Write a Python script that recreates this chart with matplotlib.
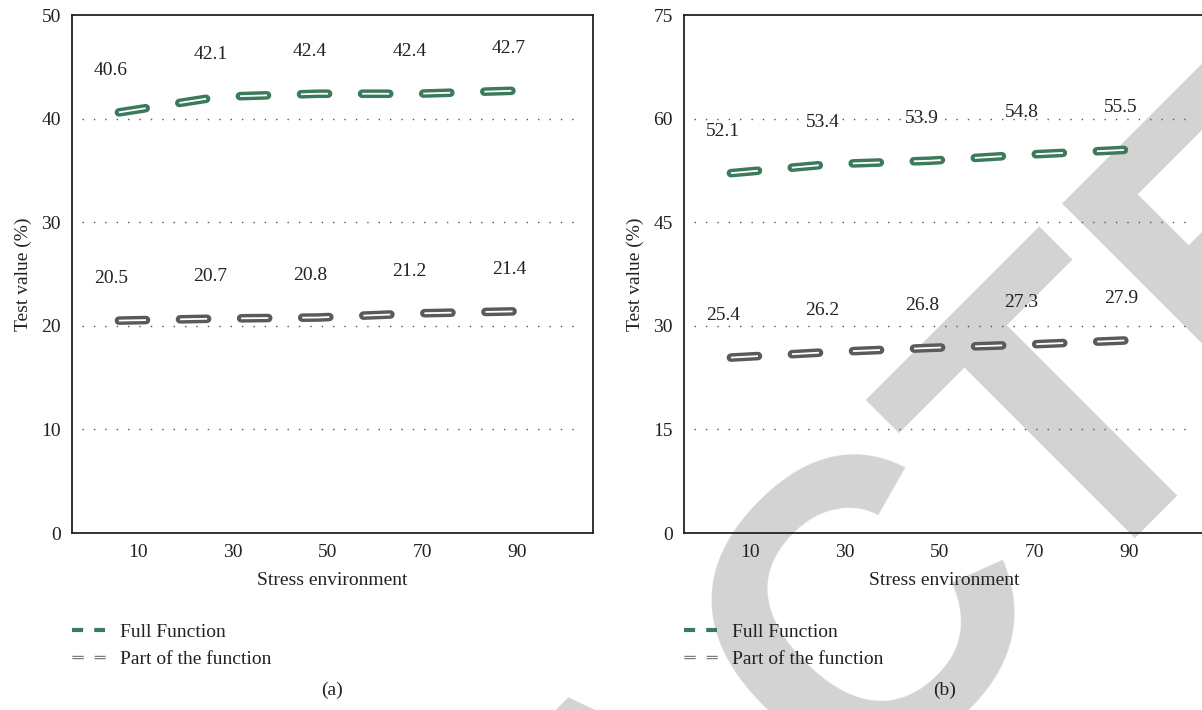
import matplotlib
matplotlib.use('Agg')
import matplotlib.pyplot as plt
from matplotlib.lines import Line2D
from matplotlib.legend_handler import HandlerTuple

plt.rcParams['font.family'] = ['Liberation Serif', 'DejaVu Serif']
plt.rcParams['lines.scale_dashes'] = False

# ---------------- data ----------------
x_ticks = [10, 30, 50, 70, 90]
x_points = [6, 27, 48, 69, 90]
full_a = [40.6, 42.1, 42.4, 42.4, 42.7]
part_a = [20.5, 20.7, 20.8, 21.2, 21.4]
full_b = [52.1, 53.4, 53.9, 54.8, 55.5]
part_b = [25.4, 26.2, 26.8, 27.3, 27.9]
yticks_a = [0, 10, 20, 30, 40, 50]
yticks_b = [0, 15, 30, 45, 60, 75]
series_names = ['Full Function', 'Part of the function']
panel_labels = ['(a)', '(b)']

GREEN = '#3b7a5b'
GRAY = '#5a5a5a'
SPINE = '#222222'
TXT = '#222222'
FS = 14

fig = plt.figure(figsize=(12.02, 7.10), dpi=100)

# retraction watermark (behind the plot content)
fig.text(0.5516, -0.1676, 'RETRACTED', rotation=45, fontsize=300, color='#d3d3d3',
         family='Liberation Sans', weight='bold', ha='center', va='center',
         zorder=-10, rotation_mode='anchor')

ax_w = 521 / 1202
ax_h = 518 / 710
ax_bottom = 1 - 533 / 710
axes = [fig.add_axes([72 / 1202, ax_bottom, ax_w, ax_h]),
        fig.add_axes([684 / 1202, ax_bottom, ax_w, ax_h])]

def outlined(ax, x, y, color):
    ax.plot(x, y, color=color, lw=6.2, dashes=(19.5, 24.5), dash_capstyle='round',
            zorder=3)
    ax.plot(x, y, color='white', lw=1.3, dashes=(19.5, 24.5), dash_capstyle='butt',
            zorder=4)

panels = [(axes[0], full_a, part_a, yticks_a), (axes[1], full_b, part_b, yticks_b)]
for i, (ax, full, part, yt) in enumerate(panels):
    ax.set_facecolor('none')
    ax.set_xlim(-3.9, 106)
    ax.set_ylim(yt[0], yt[-1])
    ax.set_xticks(x_ticks)
    ax.set_yticks(yt)
    ax.tick_params(axis='both', length=0, labelsize=FS, colors=TXT)
    ax.tick_params(axis='y', pad=8)
    ax.tick_params(axis='x', pad=8)
    for s in ax.spines.values():
        s.set_color(SPINE)
        s.set_linewidth(1.3)
    for v in yt[1:-1]:
        ax.axhline(v, xmin=0.02, xmax=0.975, color='#555555', lw=1.0,
                   dashes=(1, 7.2), zorder=1)
    outlined(ax, x_points, full, GREEN)
    outlined(ax, x_points, part, GRAY)
    for xs, ys in ((x_points, full), (x_points, part)):
        for xv, yv in zip(xs, ys):
            ax.annotate(f'{yv:.1f}', (xv, yv), xytext=(-8, 42),
                        textcoords='offset pixels', ha='center', va='center',
                        fontsize=FS, color=TXT, zorder=5)
    ax.set_xlabel('Stress environment', fontsize=FS, labelpad=8, color=TXT)
    ax.set_ylabel('Test value (%)', fontsize=FS, labelpad=7, color=TXT)

    h_full = (Line2D([], [], color=GREEN, lw=3.0, dashes=(8, 8), dash_capstyle='butt'),)
    h_part = (Line2D([], [], color=GRAY, lw=2.4, dashes=(8, 8), dash_capstyle='butt'),
              Line2D([], [], color='white', lw=1.0, dashes=(8, 8), dash_capstyle='butt'))
    ax.legend([h_full, h_part], series_names, loc='upper left',
              bbox_to_anchor=(0, -0.174), frameon=False, fontsize=FS,
              handlelength=1.7, handletextpad=0.75, borderaxespad=0, borderpad=0,
              labelspacing=0.5, labelcolor=TXT,
              handler_map={tuple: HandlerTuple(ndivide=1)})
    ax.text(0.5, -0.303, panel_labels[i], transform=ax.transAxes, ha='center',
            va='center', fontsize=FS, color=TXT)

fig.savefig('out.png', dpi=100)
